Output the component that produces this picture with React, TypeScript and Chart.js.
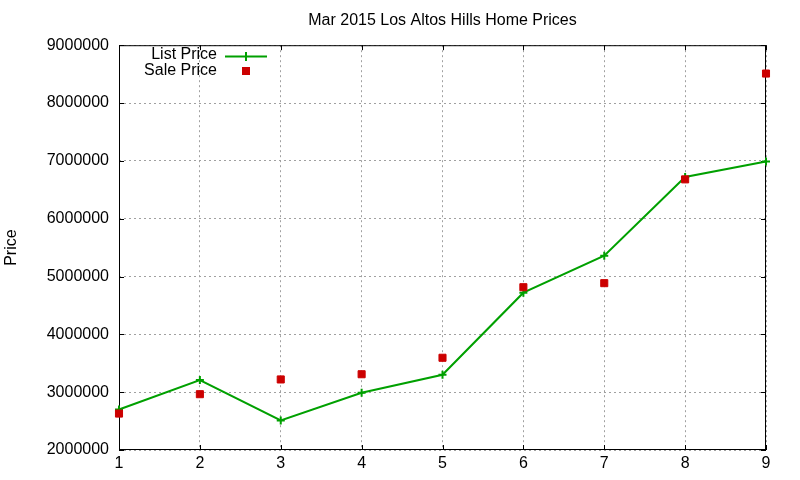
import React, { useEffect, useRef } from "react";
import { Chart, registerables } from "chart.js";

Chart.register(...registerables);

const titleText = "Mar 2015 Los Altos Hills Home Prices";
const yAxisTitle = "Price";
const months = [1, 2, 3, 4, 5, 6, 7, 8, 9];
const listPrices = [2700000, 3210000, 2510000, 2990000, 3300000, 4720000, 5360000, 6720000, 6990000];
const salePrices = [2630000, 2965000, 3220000, 3310000, 3595000, 4815000, 4885000, 6680000, 8510000];
const seriesNames = ["List Price", "Sale Price"];
const yMin = 2000000;
const yMax = 9000000;
const yStep = 1000000;
const xMin = 1;
const xMax = 9;

const FONT = "'Liberation Sans', Arial, sans-serif";
const GREEN = "#00a000";
const RED = "#cc0000";

const framePlugin = {
  id: "gnuFrame",
  beforeDatasetsDraw(chart: any) {
    const { ctx, chartArea } = chart;
    const { left, right, top, bottom } = chartArea;
    const xs = chart.scales.x;
    const ys = chart.scales.y;
    ctx.save();
    ctx.strokeStyle = "#000";
    ctx.lineWidth = 1;
    ctx.setLineDash([]);
    ctx.strokeRect(left + 0.5, top + 0.5, right - left - 1, bottom - top - 1);
    const tl = 5;
    ctx.beginPath();
    ys.ticks.forEach((t: any) => {
      const y = Math.round(ys.getPixelForValue(t.value)) + 0.5;
      ctx.moveTo(left, y);
      ctx.lineTo(left + tl, y);
      ctx.moveTo(right, y);
      ctx.lineTo(right - tl, y);
    });
    xs.ticks.forEach((t: any) => {
      const x = Math.round(xs.getPixelForValue(t.value)) + 0.5;
      ctx.moveTo(x, bottom);
      ctx.lineTo(x, bottom - tl);
      ctx.moveTo(x, top);
      ctx.lineTo(x, top + tl);
    });
    ctx.stroke();
    ctx.restore();
  },
  afterDatasetsDraw(chart: any) {
    const { ctx } = chart;
    ctx.save();
    ctx.font = `16px ${FONT}`;
    ctx.fillStyle = "#000";
    ctx.textAlign = "right";
    ctx.textBaseline = "middle";
    const ds0 = chart.data.datasets[0];
    const ds1 = chart.data.datasets[1];
    ctx.fillText(ds0.label, 217, 55);
    ctx.fillText(ds1.label, 217, 71);
    ctx.strokeStyle = ds0.borderColor;
    ctx.lineWidth = 2;
    ctx.beginPath();
    ctx.moveTo(225, 56.5);
    ctx.lineTo(267, 56.5);
    ctx.moveTo(246, 52);
    ctx.lineTo(246, 61);
    ctx.stroke();
    ctx.fillStyle = ds1.backgroundColor;
    ctx.fillRect(242, 67, 8, 8);
    ctx.restore();
  },
};

export default function App() {
  const ref = useRef<HTMLCanvasElement | null>(null);
  useEffect(() => {
    if (!ref.current) return;
    const chart = new Chart(ref.current, {
      type: "line",
      data: {
        datasets: [
          {
            label: seriesNames[0],
            data: months.map((m, i) => ({ x: m, y: listPrices[i] })),
            borderColor: GREEN,
            backgroundColor: GREEN,
            borderWidth: 2,
            pointStyle: "cross",
            pointRadius: 4,
            pointBorderWidth: 2,
            tension: 0,
            clip: false,
            order: 2,
          },
          {
            label: seriesNames[1],
            data: months.map((m, i) => ({ x: m, y: salePrices[i] })),
            borderColor: RED,
            backgroundColor: RED,
            showLine: false,
            pointStyle: "rect",
            pointRadius: 5,
            pointBorderWidth: 1,
            clip: false,
            order: 1,
          },
        ],
      },
      options: {
        animation: false,
        responsive: false,
        maintainAspectRatio: false,
        layout: { padding: { left: 0, right: 34, top: 0, bottom: 0 } },
        plugins: {
          legend: { display: false },
          tooltip: { enabled: false },
          title: {
            display: true,
            fullSize: false,
            text: titleText,
            color: "#000",
            font: { family: FONT, size: 16, weight: "normal" },
            padding: { top: 11, bottom: 15 },
          },
        },
        scales: {
          x: {
            type: "linear",
            min: xMin,
            max: xMax,
            ticks: {
              stepSize: 1,
              color: "#000",
              font: { family: FONT, size: 16 },
              padding: 4,
            },
            grid: {
              color: "#a0a0a0",
              drawTicks: false,
              tickLength: 0,
            },
            border: { display: false, dash: [2, 3] },
            afterFit: (s: any) => {
              s.height = 30;
            },
          },
          y: {
            type: "linear",
            min: yMin,
            max: yMax,
            ticks: {
              stepSize: yStep,
              color: "#000",
              font: { family: FONT, size: 16 },
              padding: 10,
              callback: (v: any) => String(v),
            },
            grid: {
              color: "#a0a0a0",
              drawTicks: false,
              tickLength: 0,
            },
            border: { display: false, dash: [2, 3] },
            title: {
              display: true,
              text: yAxisTitle,
              color: "#000",
              font: { family: FONT, size: 16 },
              padding: { top: 2, bottom: 0 },
            },
            afterFit: (s: any) => {
              s.width = 119;
            },
          },
        },
      },
      plugins: [framePlugin],
    });
    return () => chart.destroy();
  }, []);
  return (
    <div style={{ position: "fixed", left: 0, top: 0, width: 800, height: 480, background: "#fff" }}>
      <canvas ref={ref} width={800} height={480} style={{ width: 800, height: 480, display: "block" }} />
    </div>
  );
}
